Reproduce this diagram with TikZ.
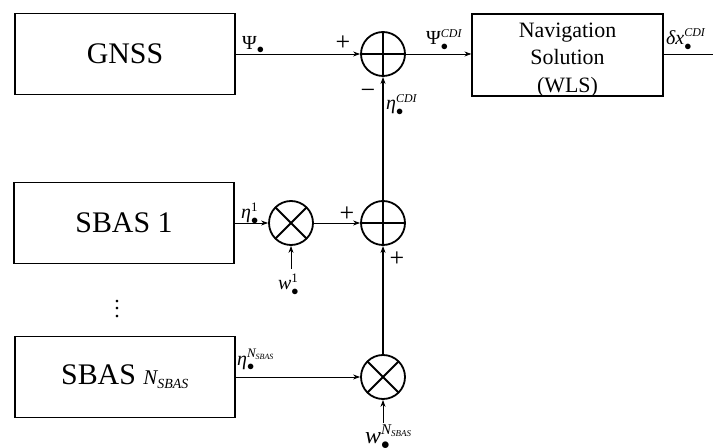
\documentclass[tikz,border=0pt]{standalone}
\usepackage{fontspec}
\setmainfont{Liberation Serif}
\usetikzlibrary{arrows.meta}
\newcommand{\fs}[1]{\fontsize{#1}{#1}\selectfont}
\newcommand{\lbl}[3]{\ensuremath{\mbox{#1}^{\mbox{\fs{#3}#2}}_{\bullet}}}
\newcommand{\myvdots}{\vbox{\baselineskip=7.5bp\lineskiplimit=0pt\hbox{.}\hbox{.}\hbox{.}}}
\tikzset{
  blk/.style={draw, line width=1.2bp, minimum width=220bp, minimum height=81bp, inner sep=0pt, font=\fs{30}},
  op/.style={circle, draw, line width=1.8bp, minimum size=44bp, inner sep=0pt},
  sumop/.style={op, path picture={\draw[line width=1.8bp] (path picture bounding box.north) -- (path picture bounding box.south) (path picture bounding box.west) -- (path picture bounding box.east);}},
  mulop/.style={op, path picture={\draw[line width=1.8bp] (path picture bounding box.north west) -- (path picture bounding box.south east) (path picture bounding box.north east) -- (path picture bounding box.south west);}},
  conn/.style={line width=0.8bp, -{Stealth[length=7bp,width=5bp]}},
  trunk/.style={line width=2.2bp, -{Stealth[length=7bp,width=5bp]}},
  lab/.style={anchor=base west, inner sep=0pt, font=\fs{20}},
  sgn/.style={inner sep=0pt, font=\fs{26}}
}
\begin{document}
\begin{tikzpicture}[x=1bp,y=-1bp]
\useasboundingbox (0,0) rectangle (713,448);
% blocks
\node[blk] (gnss) at (125,54) {GNSS};
\node[blk] (sbas1) at (124,223) {SBAS 1};
\node[blk] (sbasn) at (125,377) {SBAS $\mbox{\fs{21}\itshape N}_{\mbox{\fs{14}\itshape SBAS}}$};
\node[draw, line width=1.2bp, minimum width=191bp, minimum height=82bp, inner sep=0pt] (nav) at (567.5,55) {};
\node[align=center, font=\fontsize{22}{28}\selectfont, inner sep=0pt] (navtext) at (567.5,60) {Navigation\\Solution\\(WLS)};
\node[font=\fs{22}, inner sep=0pt] (vd) at (117,309) {\myvdots};
% operators
\node[sumop] (sumtop) at (383,54) {};
\node[sumop] (sum2) at (383,223) {};
\node[mulop] (mult1) at (291,223) {};
\node[mulop] (mult2) at (383,377) {};
\coordinate (out) at (713,54);
\coordinate (w1) at (291,269);
\coordinate (wn) at (383,423);
% connectors
\draw[conn] (gnss.east |- sumtop) -- (sumtop.west);
\draw[conn] (sumtop.east) -- (sumtop.east -| nav.west);
\draw[line width=0.8bp] (nav.east |- out) -- (out);
\draw[conn] (sbas1.east |- mult1) -- (mult1.west);
\draw[conn] (mult1.east) -- (sum2.west);
\draw[conn] (sbasn.east |- mult2) -- (mult2.west);
\draw[conn] (w1) -- (mult1.south);
\draw[conn] (wn) -- (mult2.south);
\draw[trunk] (sum2.north) -- (sumtop.south);
\draw[trunk] (mult2.north) -- (sum2.south);
% labels
\node[lab] (lpsi) at (242,50) {$\mbox{Ψ}_{\bullet}$};
\node[sgn] (p1) at (343,43) {+};
\node[lab] (lpsicdi) at (426,45) {\lbl{Ψ}{\itshape CDI}{12}};
\node[lab] (ldx) at (666,45) {\lbl{\itshape δx}{\itshape CDI}{12}};
\node[sgn] (m1) at (368,94) {−};
\node[lab] (letacdi) at (386,110) {\lbl{\itshape η}{\itshape CDI}{12}};
\node[lab] (leta1) at (241,219) {\lbl{\itshape η}{1}{13}};
\node[sgn] (p2) at (347,214) {+};
\node[sgn] (p3) at (397,259) {+};
\node[lab] (lw1) at (278,290) {\lbl{\itshape w}{1}{13}};
\node[lab] (letan) at (237,365) {$\mbox{\itshape η}^{\mbox{\fs{13}\itshape N}_{\mbox{\fs{8}\itshape SBAS}}}_{\bullet}$};
\node[lab, font=\fs{24}] (lwn) at (365,443) {$\mbox{\itshape w}^{\mbox{\fs{15}\itshape N}_{\mbox{\fs{9}\itshape SBAS}}}_{\bullet}$};
\end{tikzpicture}
\end{document}
